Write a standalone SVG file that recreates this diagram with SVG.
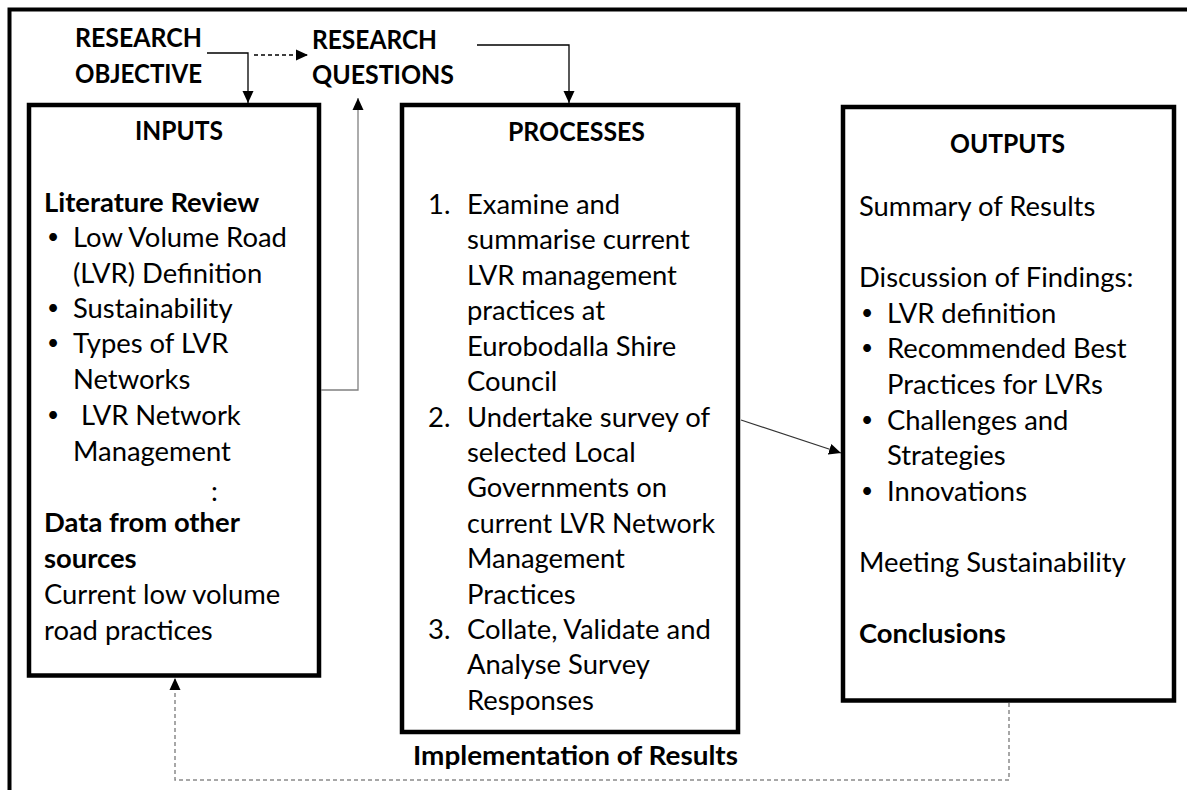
<svg xmlns="http://www.w3.org/2000/svg" width="1187" height="790" viewBox="0 0 1187 790">
  <style>
    .t { font-family: Lato, "Liberation Sans", sans-serif; font-size: 27.4px; fill: #000; }
    .b { font-weight: bold; }
    .bul { font-family: Lato, "Liberation Sans", sans-serif; font-size: 21px; fill: #000; }
    .box { fill: #fff; stroke: #000; stroke-width: 4.5; }
    .ln { fill: none; stroke: #000; stroke-width: 1.3; }
    .gray { fill: none; stroke: #808080; stroke-width: 1.3; }
    .dash { fill: none; stroke: #000; stroke-width: 1.3; stroke-dasharray: 4 3; }
    .gdash { fill: none; stroke: #8a8a8a; stroke-width: 1.5; stroke-dasharray: 4 3; }
  </style>
  <defs>
    <marker id="arr" markerUnits="userSpaceOnUse" markerWidth="12" markerHeight="12" viewBox="0 0 12 12" refX="12" refY="6" orient="auto">
      <path d="M0,0.5 L12,6 L0,11.5 Z" fill="#000"/>
    </marker>
  </defs>

  <rect width="1187" height="790" fill="#fff"/>
  <!-- outer frame (top and left edges only) -->
  <path d="M9.5,790 V9.5 H1187" fill="none" stroke="#000" stroke-width="4"/>

  <!-- top labels -->
  <g id="research-objective">
    <text class="t b" x="75" y="47" textLength="127" lengthAdjust="spacingAndGlyphs">RESEARCH</text>
    <text class="t b" x="75" y="83" textLength="127" lengthAdjust="spacingAndGlyphs">OBJECTIVE</text>
  </g>
  <g id="research-questions">
    <text class="t b" x="312" y="49" textLength="125" lengthAdjust="spacingAndGlyphs">RESEARCH</text>
    <text class="t b" x="312" y="84" textLength="142" lengthAdjust="spacingAndGlyphs">QUESTIONS</text>
  </g>

  <!-- INPUTS -->
  <g id="inputs">
    <rect class="box" x="29" y="105" width="290" height="570.5"/>
    <text class="t b" x="135" y="140" textLength="88" lengthAdjust="spacingAndGlyphs">INPUTS</text>
    <text class="t b" x="44" y="212">Literature Review</text>
    <text class="bul" x="47" y="244">•</text>
    <text class="t" x="73" y="247">Low Volume Road</text>
    <text class="t" x="73" y="283">(LVR) Definition</text>
    <text class="bul" x="47" y="315">•</text>
    <text class="t" x="73" y="318">Sustainability</text>
    <text class="bul" x="47" y="350">•</text>
    <text class="t" x="73" y="353">Types of LVR</text>
    <text class="t" x="73" y="389">Networks</text>
    <text class="bul" x="47" y="422">•</text>
    <text class="t" x="81" y="425">LVR Network</text>
    <text class="t" x="73" y="461">Management</text>
    <text class="t" x="211" y="501">:</text>
    <text class="t b" x="44" y="532">Data from other</text>
    <text class="t b" x="44" y="568">sources</text>
    <text class="t" x="44" y="604">Current low volume</text>
    <text class="t" x="44" y="640">road practices</text>
  </g>

  <!-- PROCESSES -->
  <g id="processes">
    <rect class="box" x="402" y="105" width="336" height="627"/>
    <text class="t b" x="508" y="141" textLength="137" lengthAdjust="spacingAndGlyphs">PROCESSES</text>
    <text class="t" x="428" y="214">1.</text>
    <text class="t" x="467" y="214">Examine and</text>
    <text class="t" x="467" y="249">summarise current</text>
    <text class="t" x="467" y="285">LVR management</text>
    <text class="t" x="467" y="320">practices at</text>
    <text class="t" x="467" y="356">Eurobodalla Shire</text>
    <text class="t" x="467" y="391">Council</text>
    <text class="t" x="428" y="427">2.</text>
    <text class="t" x="467" y="427">Undertake survey of</text>
    <text class="t" x="467" y="462">selected Local</text>
    <text class="t" x="467" y="497">Governments on</text>
    <text class="t" x="467" y="533" textLength="248" lengthAdjust="spacingAndGlyphs">current LVR Network</text>
    <text class="t" x="467" y="568">Management</text>
    <text class="t" x="467" y="604">Practices</text>
    <text class="t" x="428" y="639">3.</text>
    <text class="t" x="467" y="639">Collate, Validate and</text>
    <text class="t" x="467" y="674">Analyse Survey</text>
    <text class="t" x="467" y="710">Responses</text>
  </g>

  <!-- OUTPUTS -->
  <g id="outputs">
    <rect class="box" x="843" y="107" width="331" height="593.5"/>
    <text class="t b" x="950" y="153" textLength="115" lengthAdjust="spacingAndGlyphs">OUTPUTS</text>
    <text class="t" x="859" y="216">Summary of Results</text>
    <text class="t" x="859" y="287">Discussion of Findings:</text>
    <text class="bul" x="861" y="320">•</text>
    <text class="t" x="887" y="323">LVR definition</text>
    <text class="bul" x="861" y="355">•</text>
    <text class="t" x="887" y="358">Recommended Best</text>
    <text class="t" x="887" y="394">Practices for LVRs</text>
    <text class="bul" x="861" y="427">•</text>
    <text class="t" x="887" y="430">Challenges and</text>
    <text class="t" x="887" y="465">Strategies</text>
    <text class="bul" x="861" y="498">•</text>
    <text class="t" x="887" y="501">Innovations</text>
    <text class="t" x="859" y="572">Meeting Sustainability</text>
    <text class="t b" x="859" y="643">Conclusions</text>
  </g>

  <g id="feedback-label">
    <text class="t b" x="413" y="765" textLength="325" lengthAdjust="spacingAndGlyphs">Implementation of Results</text>
  </g>

  <!-- connectors -->
  <g id="connectors">
    <path class="ln" d="M207,53 H248 V103" marker-end="url(#arr)"/>
    <path class="dash" d="M254,55 H308" marker-end="url(#arr)"/>
    <path class="ln" d="M477,45 H569 V103" marker-end="url(#arr)"/>
    <path class="gray" d="M321,390 H358 V98" marker-end="url(#arr)"/>
    <path d="M741,420 L841,453" fill="none" stroke="#333" stroke-width="1.3" marker-end="url(#arr)"/>
    <path class="gdash" d="M1009,703 V780 H175 V678" marker-end="url(#arr)"/>
  </g>
</svg>
